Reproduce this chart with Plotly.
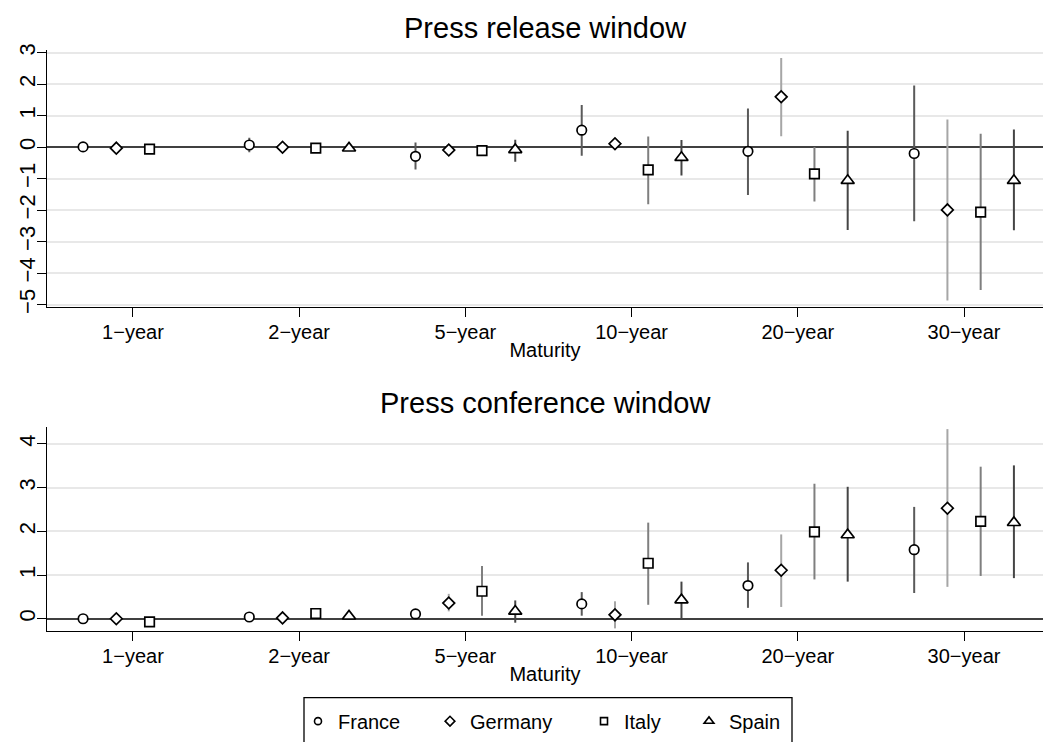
import plotly.graph_objects as go

W, H = 1043, 742
FONT = "Liberation Sans, Arial, Helvetica, sans-serif"

maturities = ["1−year", "2−year", "5−year", "10−year", "20−year", "30−year"]
countries = ["France", "Germany", "Italy", "Spain"]

# Press release window: point estimates with lower / upper confidence bounds
release_france = [0.01, 0.07, -0.29, 0.54, -0.13, -0.20]
release_france_lo = [-0.03, -0.16, -0.71, -0.27, -1.52, -2.35]
release_france_hi = [0.05, 0.30, 0.15, 1.34, 1.23, 1.96]

release_germany = [-0.03, 0.00, -0.09, 0.11, 1.60, -1.99]
release_germany_lo = [-0.06, -0.03, -0.13, 0.07, 0.35, -4.87]
release_germany_hi = [0.00, 0.03, -0.05, 0.15, 2.83, 0.88]

release_italy = [-0.06, -0.03, -0.11, -0.72, -0.85, -2.06]
release_italy_lo = [-0.09, -0.06, -0.16, -1.81, -1.72, -4.53]
release_italy_hi = [-0.03, 0.00, 0.02, 0.34, 0.01, 0.43]

release_spain = [None, -0.03, -0.08, -0.33, -1.06, -1.06]
release_spain_lo = [None, -0.06, -0.46, -0.90, -2.63, -2.64]
release_spain_hi = [None, 0.03, 0.24, 0.23, 0.52, 0.56]

# Press conference window
conf_france = [0.00, 0.04, 0.11, 0.34, 0.76, 1.58]
conf_france_lo = [-0.02, 0.01, 0.08, 0.07, 0.25, 0.59]
conf_france_hi = [0.02, 0.07, 0.14, 0.61, 1.29, 2.56]

conf_germany = [0.00, 0.02, 0.36, 0.09, 1.11, 2.53]
conf_germany_lo = [-0.02, 0.00, 0.17, -0.22, 0.27, 0.73]
conf_germany_hi = [0.02, 0.04, 0.57, 0.40, 1.93, 4.34]

conf_italy = [-0.07, 0.12, 0.63, 1.27, 1.99, 2.23]
conf_italy_lo = [-0.10, 0.05, 0.07, 0.32, 0.90, 0.98]
conf_italy_hi = [-0.04, 0.19, 1.21, 2.20, 3.09, 3.48]

conf_spain = [None, 0.06, 0.17, 0.43, 1.92, 2.20]
conf_spain_lo = [None, 0.03, -0.09, 0.00, 0.85, 0.93]
conf_spain_hi = [None, 0.09, 0.42, 0.85, 3.02, 3.51]

release = [
    (release_france, release_france_lo, release_france_hi),
    (release_germany, release_germany_lo, release_germany_hi),
    (release_italy, release_italy_lo, release_italy_hi),
    (release_spain, release_spain_lo, release_spain_hi),
]
conference = [
    (conf_france, conf_france_lo, conf_france_hi),
    (conf_germany, conf_germany_lo, conf_germany_hi),
    (conf_italy, conf_italy_lo, conf_italy_hi),
    (conf_spain, conf_spain_lo, conf_spain_hi),
]

symbols = ["circle", "diamond", "square", "triangle-up"]
sizes = [9.5, 9, 9.5, 11.5]
legend_sizes = [7, 7.5, 7, 8.5]
ci_colors = ["#5a5a5a", "#a6a6a6", "#7f7f7f", "#454545"]

x_dom = [47 / W, 1.0]
top_dom = [1 - 306 / H, 1 - 44 / H]
bot_dom = [1 - 636 / H, 1 - 428 / H]

fig = go.Figure()


def px_y(p):
    return 1 - p / H


def add_panel(data, xa, ya):
    n = len(data)
    for k, (est, lo, hi) in enumerate(data):
        # dodge the four countries within each maturity group
        xs = [i + (k - (n - 1) / 2) * 0.2 for i in range(len(maturities))]
        plus = [None if e is None else h - e for e, h in zip(est, hi)]
        minus = [None if e is None else e - l for e, l in zip(est, lo)]
        fig.add_trace(go.Scatter(
            x=xs, y=est, xaxis=xa, yaxis=ya, mode="markers",
            name=countries[k], showlegend=False,
            marker=dict(symbol=symbols[k], size=sizes[k], color="white",
                        line=dict(color="black", width=1.7)),
            error_y=dict(type="data", symmetric=False, array=plus,
                         arrayminus=minus, width=0, thickness=2,
                         color=ci_colors[k]),
        ))


add_panel(release, "x", "y")
add_panel(conference, "x2", "y2")

# legend entries, one small legend per country
legend_x = [298, 430, 584, 689]
for k, c in enumerate(countries):
    lg = "legend" if k == 0 else f"legend{k + 1}"
    fig.add_trace(go.Scatter(
        x=[None], y=[None], xaxis="x2", yaxis="y2", mode="markers", name=c,
        legend=lg, showlegend=True,
        marker=dict(symbol=symbols[k], size=legend_sizes[k], color="white",
                    line=dict(color="black", width=1.6)),
    ))

axis_font = dict(family=FONT, size=20, color="black")
xcommon = dict(
    domain=x_dom, range=[-0.517, 5.475], tickmode="array",
    tickvals=list(range(len(maturities))), ticktext=maturities,
    ticks="outside", ticklen=9, tickwidth=1.3, tickcolor="black",
    showline=True, linecolor="black", linewidth=1.3, showgrid=False,
    zeroline=False, tickfont=axis_font, ticklabelstandoff=-2,
    title=dict(text="Maturity", font=axis_font, standoff=0),
)
ycommon = dict(
    ticks="outside", ticklen=9, tickwidth=1.3, tickcolor="black",
    showline=True, linecolor="black", linewidth=1.3,
    showgrid=True, gridcolor="#e8e8e8", gridwidth=1.6,
    zeroline=True, zerolinecolor="#404040", zerolinewidth=1.6,
    tickangle=-90, tickfont=dict(family=FONT, size=22, color="black"),
    tickmode="array", ticklabelstandoff=-7,
)

legend_common = dict(
    orientation="h", yanchor="top", xanchor="left", y=px_y(708),
    bgcolor="rgba(0,0,0,0)", borderwidth=0,
    font=dict(family=FONT, size=20, color="black"),
)
legends = {}
for k in range(len(countries)):
    key = "legend" if k == 0 else f"legend{k + 1}"
    legends[key] = dict(legend_common, x=legend_x[k] / W)

fig.update_layout(
    width=W, height=H, margin=dict(l=0, r=0, t=0, b=0),
    paper_bgcolor="white", plot_bgcolor="white",
    font=dict(family=FONT, color="black"),
    xaxis=dict(xcommon, anchor="y"),
    yaxis=dict(ycommon, domain=top_dom, anchor="x", range=[-5.08, 3.08],
               tickvals=list(range(-5, 4))),
    xaxis2=dict(xcommon, anchor="y2"),
    yaxis2=dict(ycommon, domain=bot_dom, anchor="x2", range=[-0.28, 4.39],
                tickvals=list(range(0, 5))),
    annotations=[
        dict(text="Press release window", x=0.5 * (x_dom[0] + 1), y=px_y(21),
             xref="paper", yref="paper", showarrow=False, xanchor="center",
             yanchor="middle", font=dict(family=FONT, size=29, color="black")),
        dict(text="Press conference window", x=0.5 * (x_dom[0] + 1), y=px_y(404),
             xref="paper", yref="paper", showarrow=False, xanchor="center",
             yanchor="middle", font=dict(family=FONT, size=29, color="black")),
    ],
    shapes=[
        dict(type="rect", xref="paper", yref="paper", x0=304 / W, x1=792 / W,
             y0=px_y(760), y1=px_y(704), line=dict(color="black", width=1.3),
             fillcolor="rgba(0,0,0,0)"),
    ],
    **legends,
)

fig.write_html("out.html")
